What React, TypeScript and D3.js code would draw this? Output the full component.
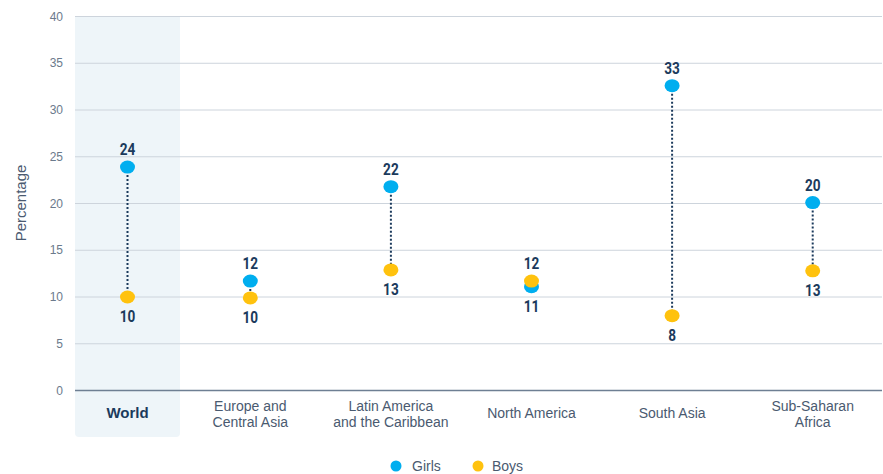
import React from "react";
import * as d3 from "d3";

const categories = ["World", "Europe and\nCentral Asia", "Latin America\nand the Caribbean", "North America", "South Asia", "Sub-Saharan\nAfrica"];
const girls = [23.9, 11.7, 21.8, 11.1, 32.6, 20.1];
const boys = [10.0, 9.9, 12.9, 11.7, 8.0, 12.8];
const girlsLabels = ["24", "12", "22", "11", "33", "20"];
const boysLabels = ["10", "10", "13", "12", "8", "13"];
const yTicks = [0, 5, 10, 15, 20, 25, 30, 35, 40];

const W = 883, H = 474;
const GIRL = "#00AEEF";
const BOY = "#FFC20E";
const NAVY = "#1B3A5C";
const SANS = "'Liberation Sans', Arial, sans-serif";

export default function App() {
  const y = d3.scaleLinear().domain([0, 40]).range([390.5, 16.5]);
  const xWorld = d3.scaleBand().domain([categories[0]]).range([75, 180]);
  const xRegions = d3.scaleBand().domain(categories.slice(1)).range([180, 883]);
  const cx = (i: number) =>
    i === 0 ? xWorld(categories[0])! + xWorld.bandwidth() / 2 : xRegions(categories[i])! + xRegions.bandwidth() / 2;

  return (
    <svg width={W} height={H} style={{ position: "absolute", left: 0, top: 0, fontFamily: SANS }}>
      <path
        d={`M75,16.5 H180 V433 Q180,437 176,437 H79 Q75,437 75,433 Z`}
        fill="#EEF5F9"
      />
      {yTicks.map((t) => (
        <g key={t}>
          <line x1={75} x2={882} y1={y(t)} y2={y(t)} stroke={t === 0 ? "#6E7F93" : "#CDD4DC"} strokeWidth={t === 0 ? 1.5 : 1} />
          <text x={63} y={y(t)} dy="0.35em" textAnchor="end" fontSize={12} fill="#6B7A8C">{t}</text>
        </g>
      ))}
      <text transform="translate(26,203) rotate(-90)" textAnchor="middle" fontSize={15} fill="#4A5A70">Percentage</text>
      {categories.map((c, i) => {
        const lines = c.split("\n");
        const x = cx(i);
        const startY = lines.length === 1 ? 418 : 411;
        return (
          <text key={c} textAnchor="middle" fontSize={i === 0 ? 15 : 14} fontWeight={i === 0 ? 700 : 400} fill={i === 0 ? NAVY : "#4A5A70"}>
            {lines.map((l, k) => (
              <tspan key={k} x={x} y={startY + k * 16}>{l}</tspan>
            ))}
          </text>
        );
      })}
      {categories.map((c, i) => {
        const x = cx(i);
        const gy = y(girls[i]);
        const by = y(boys[i]);
        const girlHigher = girls[i] >= boys[i];
        const topY = Math.min(gy, by);
        const botY = Math.max(gy, by);
        const topLabel = girlHigher ? girlsLabels[i] : boysLabels[i];
        const botLabel = girlHigher ? boysLabels[i] : girlsLabels[i];
        const tf = `translate(${x},0) scale(0.85,1) translate(${-x},0)`;
        return (
          <g key={c}>
            <line x1={x} x2={x} y1={gy} y2={by} stroke={NAVY} strokeWidth={2} strokeDasharray="2,2" />
            <ellipse cx={x} cy={gy} rx={7.5} ry={6.5} fill={GIRL} />
            <ellipse cx={x} cy={by} rx={7.5} ry={6.5} fill={BOY} />
            <text x={x} y={topY - 12} textAnchor="middle" fontSize={16} fontWeight={700} fill={NAVY} fontFamily="Roboto, sans-serif" transform={tf}>{topLabel}</text>
            <text x={x} y={botY + 25} textAnchor="middle" fontSize={16} fontWeight={700} fill={NAVY} fontFamily="Roboto, sans-serif" transform={tf}>{botLabel}</text>
          </g>
        );
      })}
      <circle cx={396} cy={466} r={5.5} fill={GIRL} />
      <text x={412} y={466} dy="0.35em" fontSize={14} fill="#4A5A70">Girls</text>
      <circle cx={478} cy={466} r={5.5} fill={BOY} />
      <text x={492} y={466} dy="0.35em" fontSize={14} fill="#4A5A70">Boys</text>
    </svg>
  );
}
